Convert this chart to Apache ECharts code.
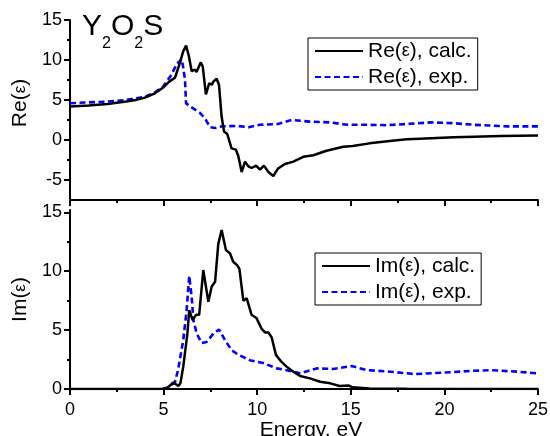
<!DOCTYPE html>
<html>
<head>
<meta charset="utf-8">
<script src="https://cdn.jsdelivr.net/npm/echarts@6/dist/echarts.min.js"></script>
<style>
  html, body { margin: 0; padding: 0; background: #fff; }
  #chart { width: 550px; height: 436px; }
</style>
</head>
<body>
<div id="chart"></div>
<script>
// Re(eps) calc.
var reCalcE = [0, 1, 2, 3, 3.5, 4, 4.5, 5, 5.3, 5.61, 5.88, 6.05, 6.2, 6.35, 6.5, 6.67, 6.76, 6.98, 7.09, 7.26, 7.44, 7.57, 7.66, 7.83, 7.96, 8.1, 8.23, 8.4, 8.63, 8.86, 8.99, 9.17, 9.35, 9.53, 9.7, 9.94, 10.15, 10.36, 10.6, 10.86, 11.1, 11.48, 11.93, 12.46, 13.0, 13.7, 14.6, 15.1, 16.0, 17.2, 18.0, 19.0, 20.5, 21.6, 23, 25];
var reCalcV = [4.2, 4.3, 4.5, 4.8, 5.0, 5.3, 5.8, 6.6, 7.3, 7.8, 9.7, 11.1, 11.8, 10.5, 8.6, 8.8, 8.5, 9.7, 9.2, 5.7, 7.1, 6.9, 7.3, 7.65, 6.9, 2.9, 1.05, 0.75, -1.05, -1.2, -2.0, -4.0, -2.7, -3.3, -3.5, -3.2, -3.7, -3.2, -4.0, -4.5, -3.6, -3.0, -2.7, -2.1, -1.9, -1.35, -0.84, -0.76, -0.42, -0.08, 0.1, 0.2, 0.35, 0.42, 0.5, 0.55];
// Re(eps) exp.
var reExpE = [0, 1, 2, 3, 4, 4.5, 4.98, 5.43, 5.7, 5.97, 6.05, 6.14, 6.2, 6.41, 6.94, 7.21, 7.48, 7.75, 8.1, 8.9, 9.53, 10.15, 11.1, 11.84, 12.8, 13.9, 14.8, 16.0, 16.9, 18.0, 19.3, 20.5, 21.6, 23.4, 25];
var reExpV = [4.6, 4.7, 4.8, 5.0, 5.4, 5.9, 6.7, 8.2, 9.5, 10.1, 9.0, 7.6, 4.6, 4.2, 3.4, 2.7, 1.6, 1.5, 1.7, 1.76, 1.6, 1.9, 2.0, 2.5, 2.3, 2.2, 1.9, 1.9, 1.85, 2.0, 2.2, 2.1, 1.9, 1.7, 1.7];
// Im(eps) calc.
var imCalcE = [0, 4.9, 5.2, 5.52, 5.79, 5.9, 6.05, 6.27, 6.37, 6.55, 6.73, 6.9, 7.12, 7.39, 7.57, 7.75, 7.92, 8.1, 8.33, 8.55, 8.72, 8.94, 9.05, 9.26, 9.44, 9.7, 9.97, 10.24, 10.42, 10.6, 10.77, 11.0, 11.3, 11.57, 11.93, 12.29, 12.82, 13.36, 13.9, 14.4, 14.87, 15.1, 16, 18, 25];
var imCalcV = [0, 0, 0.1, 0.55, 0.25, 0.5, 1.9, 4.7, 6.7, 5.85, 6.3, 6.3, 10.1, 7.4, 8.7, 9.1, 12.3, 13.5, 11.8, 11.5, 10.8, 10.5, 10.2, 7.5, 7.7, 6.3, 6.0, 5.1, 4.8, 4.8, 4.4, 2.9, 2.3, 1.9, 1.47, 1.1, 0.9, 0.62, 0.48, 0.25, 0.3, 0.14, 0.05, 0.02, 0];
// Im(eps) exp.
var imExpE = [5.0, 5.34, 5.61, 5.77, 6.05, 6.23, 6.37, 6.5, 6.59, 6.77, 7.03, 7.3, 7.66, 7.96, 8.28, 8.63, 9.0, 9.6, 10.33, 11.04, 11.57, 12.29, 13.18, 14.07, 15.05, 15.85, 16.9, 18.4, 19.85, 21.6, 22.5, 23.9, 25];
var imExpV = [0, 0.2, 0.6, 1.6, 4.15, 6.7, 9.6, 7.8, 5.85, 4.7, 3.9, 4.0, 4.7, 5.05, 4.15, 3.3, 2.9, 2.45, 2.2, 1.75, 1.6, 1.33, 1.75, 1.7, 1.95, 1.6, 1.5, 1.27, 1.38, 1.55, 1.6, 1.47, 1.33];

var reMajor = [-5, 0, 5, 10, 15];
var reMinor = [-2.5, 2.5, 7.5, 12.5];
var imMajor = [0, 5, 10, 15];
var imMinor = [2.5, 7.5, 12.5];

function pairs(xs, ys) {
  return xs.map(function (x, i) { return [x, ys[i]]; });
}

var FONT = 'Liberation Sans';
var BLUE = '#0000ff';
var axisLine = { onZero: false, lineStyle: { color: '#000', width: 2 } };

function xAx(grid, labels) {
  return {
    type: 'value', gridIndex: grid, min: 0, max: 25, interval: 5,
    position: 'bottom',
    axisLine: axisLine,
    axisTick: { length: 6, lineStyle: { width: 2, color: '#000' } },
    minorTick: { show: true, splitNumber: 2, length: 3, lineStyle: { width: 2, color: '#000' } },
    splitLine: { show: false },
    axisLabel: { show: labels, color: '#000', fontFamily: FONT, fontSize: 18, margin: 12 },
    name: labels ? 'Energy, eV' : '',
    nameLocation: 'middle', nameGap: 27,
    nameTextStyle: { color: '#000', fontFamily: FONT, fontSize: 21, padding: [0, 0, 0, 14] }
  };
}

function yAx(grid, min, max, major, name, pad) {
  return {
    type: 'value', gridIndex: grid, min: min, max: max, position: 'left',
    axisLine: axisLine,
    axisTick: { customValues: major, length: 6, lineStyle: { width: 2, color: '#000' } },
    axisLabel: { customValues: major, color: '#000', fontFamily: FONT, fontSize: 18, margin: 8 },
    splitLine: { show: false },
    name: name, nameLocation: 'middle', nameRotate: 90, nameGap: 31,
    nameTextStyle: {
      color: '#000', fontFamily: FONT, fontSize: 21, padding: pad,
      rich: { e: { fontFamily: FONT, fontSize: 17, color: '#000' } }
    }
  };
}

function yMinor(grid, min, max, minor) {
  return {
    type: 'value', gridIndex: grid, min: min, max: max, position: 'left', offset: 0,
    axisLine: { show: false, onZero: false },
    axisTick: { customValues: minor, length: 3, lineStyle: { width: 2, color: '#000' } },
    axisLabel: { show: false },
    splitLine: { show: false }
  };
}

function legendFor(names, left, top) {
  return {
    data: names, orient: 'vertical', left: left, top: top,
    itemWidth: 48, itemHeight: 14, itemGap: 4, padding: [2, 6],
    borderColor: '#000', borderWidth: 1, backgroundColor: '#fff',
    itemStyle: { opacity: 0 },
    formatter: function (n) { return n.replace('ε', '{e|ε}'); },
    textStyle: {
      color: '#000', fontFamily: FONT, fontSize: 21, lineHeight: 22,
      rich: { e: { fontFamily: FONT, fontSize: 18, color: '#000' } }
    }
  };
}

function line(name, xi, yi, data, color, dashed, z) {
  return {
    name: name, type: 'line', xAxisIndex: xi, yAxisIndex: yi,
    data: data, symbol: 'none', showSymbol: false, z: z,
    lineStyle: { color: color, width: dashed ? 2.6 : 2.5, type: dashed ? [6, 3.5] : 'solid' },
    itemStyle: { color: color }
  };
}

var chart = echarts.init(document.getElementById('chart'));
chart.setOption({
  animation: false,
  backgroundColor: '#fff',
  grid: [
    { left: 70, right: 12, top: 20, height: 180, outerBoundsMode: 'none', containLabel: false },
    { left: 70, right: 12, top: 210, height: 179, outerBoundsMode: 'none', containLabel: false }
  ],
  xAxis: [xAx(0, false), xAx(1, true)],
  yAxis: [
    yAx(0, -7.5, 15, reMajor, 'Re({e|ε})', [0, 0, 0, 14]),
    yMinor(0, -7.5, 15, reMinor),
    yAx(1, 0, 15.2, imMajor, 'Im({e|ε})', [0, 0, 0, 0]),
    yMinor(1, 0, 15.2, imMinor)
  ],
  legend: [
    legendFor(['Re(ε), calc.', 'Re(ε), exp.'], 308, 38),
    legendFor(['Im(ε), calc.', 'Im(ε), exp.'], 315, 253)
  ],
  graphic: [{
    type: 'text', left: 82, top: 12,
    style: {
      text: '{m|Y}{s|2}{m|O}{s|2}{m|S}',
      rich: {
        m: { fontFamily: FONT, fontSize: 30, lineHeight: 32, verticalAlign: 'top', fill: '#000' },
        s: { fontFamily: FONT, fontSize: 16, lineHeight: 16, padding: [24, 0, 0, 0], verticalAlign: 'top', fill: '#000' }
      }
    }
  }],
  series: [
    line('Re(ε), exp.', 0, 0, pairs(reExpE, reExpV), BLUE, true, 2),
    line('Re(ε), calc.', 0, 0, pairs(reCalcE, reCalcV), '#000', false, 3),
    line('Im(ε), exp.', 1, 2, pairs(imExpE, imExpV), BLUE, true, 2),
    line('Im(ε), calc.', 1, 2, pairs(imCalcE, imCalcV), '#000', false, 3)
  ]
});
</script>
</body>
</html>
